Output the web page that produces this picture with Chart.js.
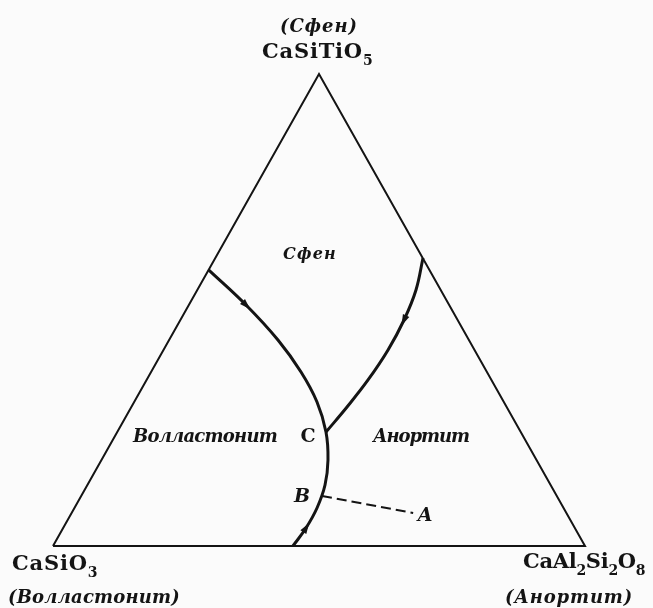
<!DOCTYPE html>
<html>
<head>
<meta charset="utf-8">
<script src="https://cdn.jsdelivr.net/npm/chart.js@4.4.1/dist/chart.umd.min.js"></script>
<style>
  html, body { margin: 0; padding: 0; background: #fbfbfb; }
  #wrap { width: 653px; height: 608px; }
</style>
</head>
<body>
<div id="wrap"><canvas id="diagram" width="653" height="608"></canvas></div>
<script>
// compositions as fractions: an = CaAl2Si2O8, sph = CaSiTiO5 (rest is CaSiO3)
const triangleAn  = [0, 1, 0, 0];
const triangleSph = [0, 0, 1, 0];

// Волластонит boundary: from the CaSiO3-CaSiTiO5 side through C and B to the base
const woAn  = [0.000, 0.1075, 0.2047, 0.2819, 0.3437, 0.3924, 0.4258, 0.4467, 0.4560, 0.4565, 0.4510];
const woSph = [0.585, 0.5106, 0.4364, 0.3686, 0.3051, 0.2415, 0.1822, 0.1292, 0.0805, 0.0381, 0.0000];

// Анортит / Сфен boundary, from the CaAl2Si2O8-CaSiTiO5 side down to C
const anSphAn  = [0.3904, 0.4111, 0.4204, 0.4221, 0.4163, 0.4054, 0.3924];
const anSphSph = [0.6102, 0.5424, 0.4788, 0.4153, 0.3517, 0.2945, 0.2415];

// crystallisation path B -> A
const pathAn  = [0.4527, 0.642];
const pathSph = [0.1059, 0.070];

// ternary -> cartesian (base 0..1, apex at height 1)
function toXY(an, sph) {
    return an.map((a, i) => ({ x: a + sph[i] / 2, y: sph[i] }));
}

const ink = '#141414';

// arrows sit on a point of a curve, pointing along it
const arrows = [
    { dataset: 1, at: 1, reverse: false },
    { dataset: 2, at: 2, reverse: false },
    { dataset: 1, at: 9, reverse: true }
];

const arrowPlugin = {
    id: 'flowArrows',
    afterDatasetsDraw(chart) {
        const { ctx } = chart;
        ctx.save();
        ctx.fillStyle = ink;
        arrows.forEach(a => {
            const pts = chart.getDatasetMeta(a.dataset).data;
            const p = pts[a.at], p0 = pts[a.at - 1], p1 = pts[a.at + 1];
            let ang = Math.atan2(p1.y - p0.y, p1.x - p0.x);
            if (a.reverse) ang += Math.PI;
            ctx.save();
            ctx.translate(p.x, p.y);
            ctx.rotate(ang);
            ctx.beginPath();
            ctx.moveTo(6, 0);
            ctx.lineTo(-5, -3.5);
            ctx.lineTo(-5, 3.5);
            ctx.closePath();
            ctx.fill();
            ctx.restore();
        });
        ctx.restore();
    }
};

// text fitted with letter spacing to the width it has in the print
function fitText(ctx, text, font, left, baseline, width) {
    ctx.font = font;
    ctx.letterSpacing = '0px';
    const w = ctx.measureText(text).width;
    const gap = (width - w) / text.length;
    ctx.letterSpacing = gap + 'px';
    ctx.textAlign = 'left';
    ctx.fillText(text, left, baseline);
    ctx.letterSpacing = '0px';
}

// formula with digits as subscripts
function drawFormula(ctx, text, left, baseline, size, spacing) {
    let x = left;
    for (const ch of text) {
        const sub = /[0-9]/.test(ch);
        ctx.font = 'bold ' + (sub ? Math.round(size * 0.68) : size) + 'px "DejaVu Serif"';
        ctx.textAlign = 'left';
        ctx.fillText(ch, x, baseline + (sub ? size * 0.32 : 0));
        x += ctx.measureText(ch).width + spacing;
    }
}

const labelPlugin = {
    id: 'phaseLabels',
    afterDraw(chart) {
        const { ctx } = chart;
        const it = 'italic bold ';
        ctx.save();
        ctx.fillStyle = ink;
        ctx.textBaseline = 'alphabetic';

        // vertices
        fitText(ctx, '(Сфен)', it + '18px "DejaVu Serif"', 280, 32, 78);
        drawFormula(ctx, 'CaSiTiO5', 262, 58, 21, 0.8);

        drawFormula(ctx, 'CaSiO3', 12, 570, 21, 0.8);
        fitText(ctx, '(Волластонит)', it + '18px "DejaVu Serif"', 8, 603, 172);

        drawFormula(ctx, 'CaAl2Si2O8', 523, 568, 21, -0.3);
        fitText(ctx, '(Анортит)', it + '18px "DejaVu Serif"', 505, 603, 128);

        // fields
        fitText(ctx, 'Сфен', it + '16px "DejaVu Serif"', 283, 259, 54);
        fitText(ctx, 'Волластонит', it + '18px "DejaVu Serif"', 133, 442, 144);
        fitText(ctx, 'Анортит', it + '18px "DejaVu Serif"', 373, 442, 96);

        // points
        ctx.font = 'bold 19px "DejaVu Serif"';
        ctx.textAlign = 'center';
        ctx.fillText('C', 308, 442);
        ctx.font = it + '19px "DejaVu Serif"';
        ctx.fillText('B', 302, 502);
        ctx.fillText('A', 425, 521);
        ctx.restore();
    }
};

const lineBase = {
    showLine: true,
    pointRadius: 0,
    borderColor: ink,
    fill: false,
    clip: false
};

new Chart(document.getElementById('diagram'), {
    type: 'scatter',
    data: {
        datasets: [
            { ...lineBase, data: toXY(triangleAn, triangleSph), borderWidth: 2, tension: 0 },
            { ...lineBase, data: toXY(woAn, woSph), borderWidth: 3, tension: 0.4 },
            { ...lineBase, data: toXY(anSphAn, anSphSph), borderWidth: 3, tension: 0.4 },
            { ...lineBase, data: toXY(pathAn, pathSph), borderWidth: 2, borderDash: [10, 5], tension: 0 }
        ]
    },
    options: {
        responsive: false,
        animation: false,
        layout: { padding: { left: 53, right: 68, top: 74, bottom: 62 } },
        scales: {
            x: { type: 'linear', min: 0, max: 1, display: false },
            y: { type: 'linear', min: 0, max: 1, display: false }
        },
        plugins: {
            legend: { display: false },
            tooltip: { enabled: false }
        }
    },
    plugins: [arrowPlugin, labelPlugin]
});
</script>
</body>
</html>
